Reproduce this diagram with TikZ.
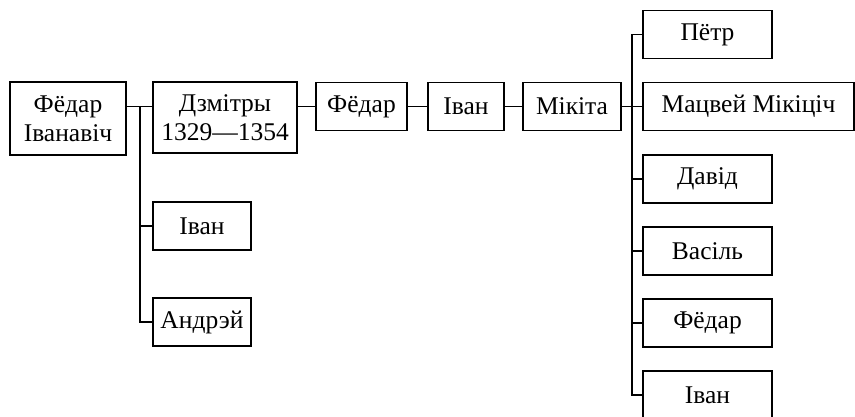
\documentclass[tikz,border=0pt]{standalone}
\usepackage{fontspec}
\setmainfont{Liberation Serif}
\begin{document}
\begin{tikzpicture}[x=1pt,y=-1pt,line width=1.2pt,
  box/.style={draw,inner sep=0pt,minimum height=48pt,align=center,font=\fontsize{25.5}{29}\selectfont}]
\useasboundingbox (0,0) rectangle (855,417);
% main line
\node (fi) at (68,118.5) [box,minimum width=116pt,minimum height=73pt] {Фёдар\\Іванавіч};
\node (dz) at (225,117.5) [box,minimum width=144pt,minimum height=71pt] {Дзмітры\\1329—1354};
\node (f2) at (361.5,106.5) [box,minimum width=91pt] {Фёдар};
\node (iv) at (466,106.5) [box,minimum width=76pt] {Іван};
\node (mk) at (572,106.5) [box,minimum width=98pt] {Мікіта};
% sons of Fiodar Ivanavich
\coordinate (ls) at (140,106.5);
\node (iv2) at (202,226) [box,minimum width=98pt] {Іван};
\node (an) at (202,322) [box,minimum width=98pt] {Андрэй};
% sons of Mikita
\coordinate (rs) at (632,34.5);
\node (pt) at (707.5,34.5) [box,minimum width=129pt] {Пётр};
\node (mc) at (748.5,106.5) [box,minimum width=211pt] {Мацвей Мікіціч};
\node (dv) at (707.5,179) [box,minimum width=129pt] {Давід};
\node (vs) at (707.5,251) [box,minimum width=129pt] {Васіль};
\node (fd) at (707.5,323) [box,minimum width=129pt] {Фёдар};
\node (iv3) at (707.5,395) [box,minimum width=129pt] {Іван};
\draw (fi.east |- f2.west) -- (dz.west |- f2.west);
\draw (dz.east |- f2.west) -- (f2.west);
\draw (f2.east) -- (iv.west);
\draw (iv.east) -- (mk.west);
\draw (mk.east) -- (mc.west);
\draw (ls) |- (an.west);
\draw (ls |- iv2.west) -- (iv2.west);
\draw (rs) -- (pt.west);
\draw (rs) |- (iv3.west);
\draw (rs |- dv.west) -- (dv.west);
\draw (rs |- vs.west) -- (vs.west);
\draw (rs |- fd.west) -- (fd.west);
\end{tikzpicture}
\end{document}
